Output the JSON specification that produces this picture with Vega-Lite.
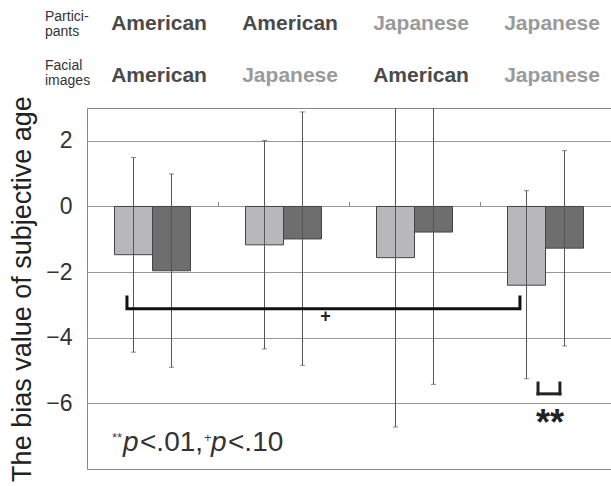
{
  "$schema": "https://vega.github.io/schema/vega-lite/v6.json",
  "width": 524,
  "height": 361,
  "autosize": "none",
  "padding": {"left": 87, "top": 108, "right": 0, "bottom": 17},
  "config": {
    "font": "Liberation Sans",
    "view": {"stroke": "#888", "strokeWidth": 1},
    "axisX": {"labels": false, "domain": false, "grid": false},
    "axisY": {"grid": true, "gridColor": "#999", "gridWidth": 1, "domain": false, "ticks": false, "tickSize": 0,
      "labelFontSize": 23, "labelPadding": 15, "labelColor": "#333",
      "titleFontSize": 27, "titleFontWeight": "normal", "titleColor": "#222", "titlePadding": 9}
  },
  "datasets": {
    "bars": [
      {"group": "AA", "cond": "1", "mean": -1.47, "lo": -4.44, "hi": 1.49},
      {"group": "AA", "cond": "2", "mean": -1.96, "lo": -4.9, "hi": 0.99},
      {"group": "AJ", "cond": "1", "mean": -1.17, "lo": -4.34, "hi": 2.01},
      {"group": "AJ", "cond": "2", "mean": -0.99, "lo": -4.84, "hi": 2.88},
      {"group": "JA", "cond": "1", "mean": -1.56, "lo": -6.72, "hi": 3.6},
      {"group": "JA", "cond": "2", "mean": -0.78, "lo": -5.42, "hi": 3.86},
      {"group": "JJ", "cond": "1", "mean": -2.4, "lo": -5.25, "hi": 0.48},
      {"group": "JJ", "cond": "2", "mean": -1.27, "lo": -4.25, "hi": 1.7}
    ],
    "header": [
      {"group": "AA", "row": "p", "label": "American"},
      {"group": "AJ", "row": "p", "label": "American"},
      {"group": "JA", "row": "p", "label": "Japanese"},
      {"group": "JJ", "row": "p", "label": "Japanese"},
      {"group": "AA", "row": "f", "label": "American"},
      {"group": "AJ", "row": "f", "label": "Japanese"},
      {"group": "JA", "row": "f", "label": "American"},
      {"group": "JJ", "row": "f", "label": "Japanese"}
    ],
    "bigBracket": [
      {"group": "AA", "v": -2.71, "o": 1},
      {"group": "AA", "v": -3.12, "o": 2},
      {"group": "JJ", "v": -3.12, "o": 3},
      {"group": "JJ", "v": -2.71, "o": 4}
    ],
    "smallBracket": [
      {"group": "JJ", "lo": -5.71, "hi": -5.38}
    ]
  },
  "layer": [
    {
      "data": {"name": "bars"},
      "mark": {"type": "bar", "stroke": "#444", "strokeWidth": 1},
      "encoding": {
        "x": {
          "field": "group", "type": "nominal",
          "scale": {"paddingInner": 0, "paddingOuter": 0},
          "axis": {"orient": "top", "offset": -98.5, "title": null, "labels": false, "domain": false,
            "ticks": true, "tickBand": "extent", "tickSize": 5, "tickColor": "#888", "tickWidth": 1, "tickOpacity": 1}
        },
        "xOffset": {"field": "cond", "type": "nominal", "scale": {"paddingInner": 0, "paddingOuter": 0.724}},
        "y": {
          "field": "mean", "type": "quantitative",
          "scale": {"domain": [-8, 3], "nice": false, "zero": true},
          "axis": {"title": "The bias value of subjective age", "values": [-6, -4, -2, 0, 2]}
        },
        "color": {"field": "cond", "type": "nominal", "scale": {"range": ["#b8b8ba", "#6e6e6e"]}, "legend": null}
      }
    },
    {
      "data": {"name": "bars"},
      "mark": {"type": "rule", "color": "#555", "strokeWidth": 1, "clip": true},
      "encoding": {
        "x": {"field": "group", "type": "nominal", "axis": {"orient": "top"}},
        "xOffset": {"field": "cond", "type": "nominal"},
        "y": {"field": "lo", "type": "quantitative", "scale": {"domain": [-8, 3]}},
        "y2": {"field": "hi"}
      }
    },
    {
      "data": {"name": "bars"},
      "transform": [{"fold": ["lo", "hi"], "as": ["end", "val"]}],
      "mark": {"type": "tick", "color": "#555", "size": 5, "thickness": 1, "clip": true},
      "encoding": {
        "x": {"field": "group", "type": "nominal", "axis": {"orient": "top"}},
        "xOffset": {"field": "cond", "type": "nominal"},
        "y": {"field": "val", "type": "quantitative", "scale": {"domain": [-8, 3]}}
      }
    },
    {
      "data": {"name": "bigBracket"},
      "mark": {"type": "line", "color": "#111", "strokeWidth": 3, "strokeJoin": "miter"},
      "encoding": {
        "x": {"field": "group", "type": "nominal", "bandPosition": 0.305, "axis": {"orient": "top"}},
        "y": {"field": "v", "type": "quantitative", "scale": {"domain": [-8, 3]}},
        "order": {"field": "o", "type": "quantitative"}
      }
    },
    {
      "data": {"name": "smallBracket"},
      "mark": {"type": "rule", "color": "#222", "strokeWidth": 3, "strokeCap": "square"},
      "encoding": {
        "x": {"field": "group", "type": "nominal", "bandPosition": 0.443, "axis": {"orient": "top"}},
        "y": {"field": "lo", "type": "quantitative", "scale": {"domain": [-8, 3]}},
        "y2": {"field": "hi"}
      }
    },
    {
      "data": {"name": "smallBracket"},
      "mark": {"type": "rule", "color": "#222", "strokeWidth": 3, "strokeCap": "square"},
      "encoding": {
        "x": {"field": "group", "type": "nominal", "bandPosition": 0.61, "axis": {"orient": "top"}},
        "y": {"field": "lo", "type": "quantitative", "scale": {"domain": [-8, 3]}},
        "y2": {"field": "hi"}
      }
    },
    {
      "data": {"name": "smallBracket"},
      "mark": {"type": "rule", "color": "#222", "strokeWidth": 3, "strokeCap": "square"},
      "encoding": {
        "x": {"field": "group", "type": "nominal", "bandPosition": 0.443, "axis": {"orient": "top"}},
        "x2": {"field": "group", "bandPosition": 0.61},
        "y": {"field": "lo", "type": "quantitative", "scale": {"domain": [-8, 3]}}
      }
    },
    {
      "data": {"values": [{"group": "AJ", "t": "+"}]},
      "mark": {"type": "text", "fontSize": 18, "fontWeight": "bold", "color": "#222", "baseline": "middle", "align": "center"},
      "encoding": {
        "x": {"field": "group", "type": "nominal", "bandPosition": 0.82, "axis": {"orient": "top"}},
        "y": {"datum": -3.38, "type": "quantitative", "scale": {"domain": [-8, 3]}},
        "text": {"field": "t"}
      }
    },
    {
      "data": {"values": [{"group": "JJ", "t": "**"}]},
      "mark": {"type": "text", "fontSize": 36, "fontWeight": "bold", "color": "#222", "baseline": "alphabetic", "align": "center"},
      "encoding": {
        "x": {"field": "group", "type": "nominal", "bandPosition": 0.534, "axis": {"orient": "top"}},
        "y": {"datum": -6.97, "type": "quantitative", "scale": {"domain": [-8, 3]}},
        "text": {"field": "t"}
      }
    },
    {
      "data": {"values": [{"group": "AA", "t": "**"}]},
      "mark": {"type": "text", "fontSize": 13, "color": "#444", "baseline": "alphabetic", "align": "left", "dx": 25, "dy": -9},
      "encoding": {
        "x": {"field": "group", "type": "nominal", "bandPosition": 0, "axis": {"orient": "top"}},
        "y": {"datum": -7.44, "type": "quantitative", "scale": {"domain": [-8, 3]}},
        "text": {"field": "t"}
      }
    },
    {
      "data": {"values": [{"group": "AA", "t": "+"}]},
      "mark": {"type": "text", "fontSize": 13, "color": "#444", "baseline": "alphabetic", "align": "left", "dx": 117, "dy": -9},
      "encoding": {
        "x": {"field": "group", "type": "nominal", "bandPosition": 0, "axis": {"orient": "top"}},
        "y": {"datum": -7.44, "type": "quantitative", "scale": {"domain": [-8, 3]}},
        "text": {"field": "t"}
      }
    },
    {
      "data": {"values": [{"group": "AA", "t": "p"}]},
      "mark": {"type": "text", "fontSize": 28, "fontStyle": "italic", "color": "#333", "baseline": "alphabetic", "align": "left", "dx": 36},
      "encoding": {
        "x": {"field": "group", "type": "nominal", "bandPosition": 0, "axis": {"orient": "top"}},
        "y": {"datum": -7.44, "type": "quantitative", "scale": {"domain": [-8, 3]}},
        "text": {"field": "t"}
      }
    },
    {
      "data": {"values": [{"group": "AA", "t": "<.01,"}]},
      "mark": {"type": "text", "fontSize": 28, "color": "#333", "baseline": "alphabetic", "align": "left", "dx": 53},
      "encoding": {
        "x": {"field": "group", "type": "nominal", "bandPosition": 0, "axis": {"orient": "top"}},
        "y": {"datum": -7.44, "type": "quantitative", "scale": {"domain": [-8, 3]}},
        "text": {"field": "t"}
      }
    },
    {
      "data": {"values": [{"group": "AA", "t": "p"}]},
      "mark": {"type": "text", "fontSize": 28, "fontStyle": "italic", "color": "#333", "baseline": "alphabetic", "align": "left", "dx": 124},
      "encoding": {
        "x": {"field": "group", "type": "nominal", "bandPosition": 0, "axis": {"orient": "top"}},
        "y": {"datum": -7.44, "type": "quantitative", "scale": {"domain": [-8, 3]}},
        "text": {"field": "t"}
      }
    },
    {
      "data": {"values": [{"group": "AA", "t": "<.10"}]},
      "mark": {"type": "text", "fontSize": 28, "color": "#333", "baseline": "alphabetic", "align": "left", "dx": 141},
      "encoding": {
        "x": {"field": "group", "type": "nominal", "bandPosition": 0, "axis": {"orient": "top"}},
        "y": {"datum": -7.44, "type": "quantitative", "scale": {"domain": [-8, 3]}},
        "text": {"field": "t"}
      }
    },
    {
      "data": {"name": "header"},
      "transform": [{"filter": "datum.row === 'p'"}],
      "mark": {"type": "text", "fontSize": 21, "fontWeight": "bold", "baseline": "alphabetic", "align": "center"},
      "encoding": {
        "x": {"field": "group", "type": "nominal", "bandPosition": 0.55, "axis": {"orient": "top"}},
        "y": {"datum": 5.37, "type": "quantitative", "scale": {"domain": [-8, 3]}},
        "text": {"field": "label"},
        "color": {"field": "label", "type": "nominal", "scale": {"domain": ["American", "Japanese"], "range": ["#4a4a4a", "#9a9a9a"]}, "legend": null}
      }
    },
    {
      "data": {"name": "header"},
      "transform": [{"filter": "datum.row === 'f'"}],
      "mark": {"type": "text", "fontSize": 21, "fontWeight": "bold", "baseline": "alphabetic", "align": "center"},
      "encoding": {
        "x": {"field": "group", "type": "nominal", "bandPosition": 0.55, "axis": {"orient": "top"}},
        "y": {"datum": 3.8, "type": "quantitative", "scale": {"domain": [-8, 3]}},
        "text": {"field": "label"},
        "color": {"field": "label", "type": "nominal", "scale": {"domain": ["American", "Japanese"], "range": ["#4a4a4a", "#9a9a9a"]}, "legend": null}
      }
    },
    {
      "data": {"values": [{"group": "AA", "t": "Partici-"}]},
      "mark": {"type": "text", "fontSize": 14, "color": "#333", "baseline": "alphabetic", "align": "left", "dx": -42},
      "encoding": {
        "x": {"field": "group", "type": "nominal", "bandPosition": 0, "axis": {"orient": "top"}},
        "y": {"datum": 5.66, "type": "quantitative", "scale": {"domain": [-8, 3]}},
        "text": {"field": "t"}
      }
    },
    {
      "data": {"values": [{"group": "AA", "t": "pants"}]},
      "mark": {"type": "text", "fontSize": 14, "color": "#333", "baseline": "alphabetic", "align": "left", "dx": -42},
      "encoding": {
        "x": {"field": "group", "type": "nominal", "bandPosition": 0, "axis": {"orient": "top"}},
        "y": {"datum": 5.2, "type": "quantitative", "scale": {"domain": [-8, 3]}},
        "text": {"field": "t"}
      }
    },
    {
      "data": {"values": [{"group": "AA", "t": "Facial"}]},
      "mark": {"type": "text", "fontSize": 14, "color": "#333", "baseline": "alphabetic", "align": "left", "dx": -42},
      "encoding": {
        "x": {"field": "group", "type": "nominal", "bandPosition": 0, "axis": {"orient": "top"}},
        "y": {"datum": 4.157, "type": "quantitative", "scale": {"domain": [-8, 3]}},
        "text": {"field": "t"}
      }
    },
    {
      "data": {"values": [{"group": "AA", "t": "images"}]},
      "mark": {"type": "text", "fontSize": 14, "color": "#333", "baseline": "alphabetic", "align": "left", "dx": -42},
      "encoding": {
        "x": {"field": "group", "type": "nominal", "bandPosition": 0, "axis": {"orient": "top"}},
        "y": {"datum": 3.7, "type": "quantitative", "scale": {"domain": [-8, 3]}},
        "text": {"field": "t"}
      }
    }
  ],
  "resolve": {"scale": {"color": "independent"}}
}
